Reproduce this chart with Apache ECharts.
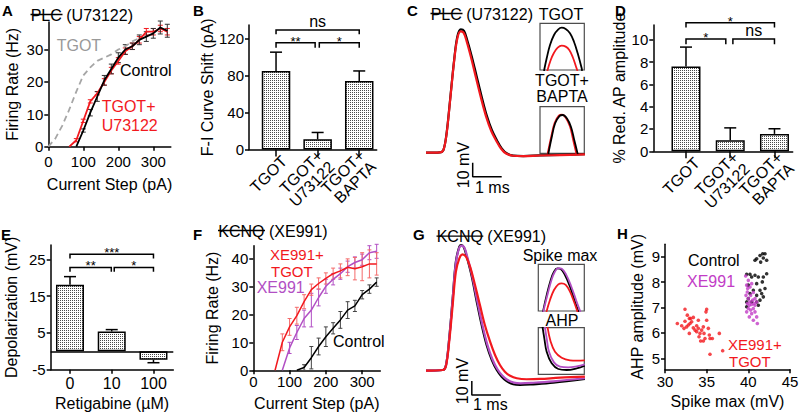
<!DOCTYPE html>
<html><head><meta charset="utf-8">
<script src="https://cdn.jsdelivr.net/npm/echarts@6/dist/echarts.min.js"></script>
<style>html,body{margin:0;padding:0;background:#fff}#c{width:800px;height:412px}</style>
</head><body><div id="c"></div>
<script>
// ---------------- DATA ----------------
// Panel A: F-I curves, PLC block (U73122)
const aTgot = [[0,0],[20,2.5],[40,6.5],[60,11.5],[80,17],[100,22],[120,24.5],[140,26.5],[160,27.5],[180,28.5],[200,30],[220,31],[240,32.5],[260,33.5]];
const aU73122 = [[60,0],[80,2],[100,8],[120,14],[140,16.5],[160,20],[180,23.5],[200,26.5],[220,29.5],[240,31],[260,33],[280,35.5],[300,35.5],[320,36.5],[340,35.5]];
const aU73122Err = [0,0.5,0.5,0.5,0.5,1,1,1,1,1,1,1,1,1,1];
const aControl = [[80,0],[100,5],[120,10.5],[140,15.5],[160,20.5],[180,24],[200,27.5],[220,30],[240,31],[260,33],[280,34],[300,35],[320,36.8],[340,35.8]];
const aControlErr = [0,0.5,1,1.5,1.5,1.5,1.5,1.5,1,1.5,1.5,1.5,2,2];

// Panel B: F-I curve shift
const bCategories = ['TGOT','TGOT+\nU73122','TGOT+\nBAPTA'];
const bMean = [85.3, 11.2, 74.4];
const bSem = [20.4, 7.3, 10.9];
const bBrackets = [[0,2,129.7,125.1,'ns'],[0,0.94,116,110.5,'**'],[1.04,2,116,110.5,'*']];

// Panel C: action potentials (ms, mV relative to baseline)
const cControl = [[0,0],[0.48,0.3],[0.6,1.9],[0.71,13.9],[0.83,37.6],[0.97,66.2],[1.08,82.9],[1.2,88.1],[1.31,87.1],[1.42,80.5],[1.58,68.6],[1.75,54.3],[1.92,40],[2.09,26.9],[2.27,16.2],[2.44,9.1],[2.61,3.1],[2.78,-0.4],[3.01,-2.1],[3.36,-2.4],[3.93,-1.9],[4.62,-1.6],[5.48,-1.1]];
const cU73122 = [[0,0],[0.48,0.3],[0.6,1.9],[0.71,13.5],[0.83,37],[0.97,65.5],[1.08,81.5],[1.19,86.6],[1.3,85.6],[1.41,79],[1.56,67.5],[1.73,53],[1.9,38.8],[2.07,26],[2.25,15.5],[2.42,8.6],[2.59,2.8],[2.76,-0.6],[2.99,-2.2],[3.34,-2.5],[3.93,-2],[4.62,-1.7],[5.48,-1.2]];
const cScaleBar = [[1.61,-7.14],[1.61,-17.14],[2.61,-17.14]];
const cInsetTgotControl = [[9,-2],[15.1,25],[22.6,53.5],[31.6,75],[41.3,87.1],[49,90.6],[58,87.8],[67.7,78.6],[76.7,60.6],[85.1,35.8],[94.1,3.6],[95,-2]];
const cInsetTgotDrug = [[16.5,-2],[24.2,21.4],[31.6,37],[40,47.8],[49,52],[58,50],[66.1,42.8],[73.8,27.9],[81.3,7.1],[84.6,-2]];
const cInsetBaptaControl = [[18.6,-2],[26.7,35.6],[34.2,64.4],[43.9,80],[51.5,82.2],[60.6,75.1],[69.8,57.1],[77.3,28.8],[85.2,-2]];
const cInsetBaptaDrug = [[17.1,-2],[25.5,36],[33,65],[42.5,81],[50,83],[58.5,76],[67.5,58],[74.8,29],[82.4,-2]];

// Panel D: % reduction of AP amplitude
const dCategories = ['TGOT','TGOT+\nU73122','TGOT+\nBAPTA'];
const dMean = [7.6, 1.0, 1.56];
const dSem = [1.74, 1.1, 0.46];
const dBrackets = [[0,2,11.52,11.1,'*'],[0,0.9,10.06,9.6,'*'],[1.06,2,10.06,9.6,'ns']];

// Panel E: depolarization vs retigabine
const eDoses = ['0','10','100'];
const eMean = [18.1, 5.4, -2.3];
const eSem = [2.2, 0.5, 0.8];
const eBrackets = [[0,2,26.4,25.2,'***'],[0,0.99,22.8,21.6,'**'],[1.06,2,22.8,21.6,'*']];

// Panel F: F-I curves, KCNQ block (XE991)
const fXe991Tgot = [[60,0],[80,10],[100,15.5],[120,19.5],[140,24.5],[160,28.8],[180,31],[200,32.8],[220,34.5],[240,35.5],[260,36.8],[280,36.3],[300,37],[320,38],[340,38]];
const fXe991TgotErr = [0,3,3,3,2.5,2,2,2,2,2.5,3,4,5,5,4];
const fXe991 = [[80,0],[100,8],[120,13.5],[140,18.5],[160,21.5],[180,26],[200,30],[220,32.5],[240,34.5],[260,37],[280,38.5],[300,39.5],[320,42],[340,42.5]];
const fXe991Err = [0,2,2.5,3,6,3,2.5,2,2,2,2,2,2.5,2.5];
const fControl = [[120,0],[140,1],[160,4.5],[180,8.5],[200,12],[220,15],[240,18],[260,21.5],[280,23],[300,27],[320,29],[340,31.5]];
const fControlErr = [0,1,4,3,3.5,2,3,3,2,1.5,1.5,1.5];

// Panel G: action potentials, KCNQ block
const gControl = [[0,0],[0.58,0.5],[0.69,4.1],[0.8,23.1],[0.92,51.7],[1.03,77.9],[1.15,88.6],[1.22,89.8],[1.31,87.9],[1.42,80.3],[1.58,67.1],[1.75,49.3],[1.92,32.6],[2.09,18.4],[2.27,7.6],[2.44,0.5],[2.61,-4.3],[2.78,-7.4],[3.01,-9.7],[3.24,-10.2],[3.7,-9.7],[4.39,-8.6],[5.48,-5.9]];
const gXe991 = [[0,0],[0.58,0.5],[0.69,4],[0.8,22.5],[0.92,51],[1.03,77],[1.15,88],[1.24,89.3],[1.33,87.6],[1.44,80],[1.6,67],[1.77,49.5],[1.94,33],[2.11,19],[2.29,8.2],[2.46,1.2],[2.63,-3.5],[2.8,-6.5],[3.03,-8.5],[3.26,-9],[3.7,-8.6],[4.39,-7.6],[5.48,-5.4]];
const gXe991Tgot = [[0,0],[0.58,0.5],[0.69,3.6],[0.8,20.7],[0.92,46.9],[1.03,70.7],[1.15,80.3],[1.26,83.1],[1.38,81.4],[1.52,74.3],[1.69,61.2],[1.86,46.9],[2.03,32.6],[2.21,20.7],[2.38,11.2],[2.55,4.1],[2.72,-0.7],[2.9,-3.6],[3.13,-5.4],[3.47,-6.1],[3.93,-5.9],[4.62,-5],[5.48,-4.3]];
const gScaleBar = [[1.58,-7.4],[1.58,-17.4],[2.58,-17.4]];
const gInsetMaxControl = [[10,-2],[18.3,34.3],[27,66.4],[34.1,84.2],[41.3,91.3],[48.7,89.9],[58,77.1],[68.9,52],[79.8,19.9],[87.6,-2]];
const gInsetMaxXe991 = [[10.7,-2],[19.5,33],[28.5,66],[36,84],[43.5,91.8],[51,90.5],[60.5,78],[71.5,53],[83,21],[91.6,-2]];
const gInsetMaxXe991Tgot = [[17.6,-2],[25.4,23.6],[34.1,45],[43.5,57.1],[50.9,59.3],[59.6,55.7],[68.9,41.3],[77.6,19.9],[85.4,-2]];
const gInsetAhpControl = [[9.2,102],[13.1,77.1],[18.2,48.5],[29.1,23.5],[43.5,11.4],[61.6,9.2],[83.4,12.8],[101,18.7]];
const gInsetAhpXe991 = [[14.3,102],[18.2,77.1],[23.3,48.5],[34.1,25.6],[47.2,16.3],[65.2,14.9],[83.4,17.1],[101,21.4]];
const gInsetAhpXe991Tgot = [[20,102],[26.9,70],[36.3,48.5],[50.8,35.6],[68.9,29.9],[83.4,29.2],[101,29.9]];

// Panel H: AHP amplitude vs spike max
const hControl = [[40.8,8.86],[41.0,8.92],[41.4,9.05],[41.72,9.12],[42.0,9.12],[42.2,8.86],[41.8,8.95],[41.48,8.79],[42.2,8.33],[39.8,8.31],[40.2,8.31],[40.4,8.2],[40.8,8.27],[41.2,8.2],[41.8,8.2],[41.0,7.94],[41.68,8.01],[40.0,7.88],[40.6,7.68],[41.4,7.68],[42.0,7.75],[40.2,7.55],[41.0,7.48],[41.6,7.55],[39.8,7.22],[40.4,7.22],[41.4,7.29],[41.8,7.42],[41.0,7.22],[40.0,7.35],[41.2,7.09],[39.8,7.03]];
const hXe991 = [[39.68,8.24],[40.0,8.07],[39.8,7.88],[40.2,7.81],[40.4,7.94],[39.88,7.61],[40.28,7.48],[40.6,7.59],[40.0,7.35],[40.2,7.22],[40.52,7.29],[40.8,7.35],[39.88,7.16],[40.12,7.09],[40.4,7.12],[40.68,7.16],[41.0,7.22],[40.0,6.96],[40.28,6.9],[40.6,6.96],[39.8,6.83],[40.4,6.76],[40.8,6.83],[40.12,6.63],[41.0,6.63],[40.6,6.5],[41.08,6.37],[39.72,7.48],[39.92,7.75],[40.8,7.09]];
const hXe991Tgot = [[31.48,6.37],[32.4,6.93],[32.68,6.7],[32.92,6.57],[32.4,6.46],[32.28,6.18],[32.6,6.24],[32.8,6.31],[33.0,6.37],[33.2,6.44],[33.4,6.2],[33.6,6.11],[33.8,6.28],[34.0,6.18],[34.2,5.98],[34.08,5.85],[34.4,6.11],[34.6,6.24],[34.68,5.98],[34.8,5.78],[35.0,6.5],[34.92,6.83],[35.0,6.93],[35.2,6.18],[35.32,5.92],[35.4,5.78],[35.68,5.78],[36.52,5.98],[35.4,5.16],[36.92,5.3],[33.4,6.61],[34.0,6.5],[32.0,6.28],[33.08,6.57],[34.6,5.68],[34.28,5.68],[33.8,6.05],[32.92,5.98]];

// ---------------- STYLE / BUILD ----------------
const FONT = "'Liberation Sans', Arial, Helvetica, sans-serif";
const RED = '#f2191e', PURPLE = '#b24fc4', HPURPLE = '#c23cc6', GRAY = '#a6a6a6';

const dotCanvas = (() => { const c = document.createElement('canvas'); c.width = 2; c.height = 2;
  const g = c.getContext('2d'); g.fillStyle = '#fff'; g.fillRect(0,0,2,2); g.fillStyle = '#4a4a4a'; g.fillRect(0,0,1,1); return c; })();
const dotFill = { image: dotCanvas, repeat: 'repeat', imageWidth: 2, imageHeight: 2 };

const chart = echarts.init(document.getElementById('c'), null, { renderer: 'svg', width: 800, height: 412 });

const gridBoxes = [
  [48.3, 22, 122.5, 124.7],    // 0 A
  [249, 25, 127.7, 124.5],     // 1 B
  [426, 23.9, 159.5, 156.8],   // 2 C
  [540, 23.3, 44.3, 46.7],     // 3 C inset 1
  [540, 106.7, 44.3, 46.6],    // 4 C inset 2
  [653.3, 25, 139.4, 126.3],   // 5 D
  [50.7, 245, 122.6, 124.7],   // 6 E
  [253.3, 245.7, 127, 124.6],  // 7 F
  [426, 241.9, 159.5, 156.8],  // 8 G
  [538.3, 264.3, 46, 46.7],    // 9 G inset 1
  [538.3, 327.7, 46, 46.6],    // 10 G inset 2
  [665, 244.3, 125, 125]       // 11 H
];
const insetIdx = [3,4,9,10];
const grid = gridBoxes.map((b, i) => ({
  left: b[0], top: b[1], width: b[2], height: b[3], outerBoundsMode: 'none', containLabel: false,
  show: insetIdx.includes(i), borderColor: '#4d4d4d', borderWidth: 1.2, backgroundColor: insetIdx.includes(i) ? '#fff' : 'transparent'
}));

function ax(g, min, max, labels, o) {
  o = o || {};
  return {
    type: 'value', gridIndex: g, min: min, max: max,
    name: o.name || '', nameLocation: 'middle', nameGap: o.nameGap || 20,
    nameTextStyle: { color: '#000', fontSize: 16, fontFamily: FONT },
    axisLine: { show: true, onZero: false, lineStyle: { color: '#000', width: 1.5 } },
    axisTick: { show: true, inside: false, length: o.tickLen || 4, customValues: o.tickValues || labels, lineStyle: { color: '#000', width: 1.5 } },
    axisLabel: Object.assign({ show: true, customValues: labels, color: '#000', fontSize: 15, fontFamily: FONT, margin: o.margin || 5,
      hideOverlap: false }, o.label || {}),
    splitLine: { show: false }
  };
}
function hid(g, min, max) { return { type: 'value', gridIndex: g, min: min, max: max, show: false }; }

const xAxis = [
  ax(0, 0, 350, [0,100,200,300], { name: 'Current Step (pA)', nameGap: 30, margin: 7 }),
  ax(1, -0.65, 2.42, [0,1,2], { tickLen: 7, label: { show: false } }),
  hid(2, 0, 5.5), hid(3, 0, 100), hid(4, 0, 100),
  ax(5, -0.739, 2.412, [0,1,2], { tickLen: 7, label: { show: false } }),
  ax(6, -0.462, 2.475, [0,1,2], { name: 'Retigabine (µM)', nameGap: 26, margin: 6, label: { fontSize: 16, formatter: v => eDoses[Math.round(v)] } }),
  ax(7, 0, 350, [0,100,200,300], { name: 'Current Step (pA)', nameGap: 25, margin: 4 }),
  hid(8, 0, 5.5), hid(9, 0, 100), hid(10, 0, 100),
  ax(11, 30, 45, [30,35,40,45], { name: 'Spike max (mV)', nameGap: 24, margin: 5 })
];
const yAxis = [
  ax(0, 0, 38.5, [0,10,20,30], { name: 'Firing Rate (Hz)', nameGap: 28 }),
  ax(1, 0, 135.2, [0,40,80,120], { name: 'F-I Curve Shift (pA)', nameGap: 29 }),
  hid(2, -20, 92), hid(3, 0, 100), hid(4, 0, 100),
  ax(5, 0, 11.32, [0,2,4,6,8,10], { name: '% Red. AP amplitude', nameGap: 14 }),
  ax(6, -5, 28.9, [-5,5,15,25], { name: 'Depolarization (mV)', nameGap: 31 }),
  ax(7, 0, 44.5, [0,10,20,30,40], { name: 'Firing Rate (Hz)', nameGap: 33 }),
  hid(8, -20, 92), hid(9, 0, 100), hid(10, 0, 100),
  ax(11, 4.567, 9.49, [5,6,7,8,9], { name: 'AHP amplitude (mV)', nameGap: 20 })
];

function line(g, data, color, width, extra) {
  return Object.assign({ type: 'line', xAxisIndex: g, yAxisIndex: g, data: data, showSymbol: false, symbol: 'none',
    lineStyle: { color: color, width: width }, itemStyle: { color: color }, animation: false, silent: true, z: 3 }, extra || {});
}
// symmetric error bars
function errBars(g, pts, errs, color, cap, width) {
  return { type: 'custom', xAxisIndex: g, yAxisIndex: g, silent: true, animation: false, z: 2,
    data: pts.map((p, i) => [p[0], p[1], errs[i]]),
    renderItem: (params, api) => {
      const x = api.value(0), y = api.value(1), e = api.value(2);
      if (!e) return null;
      const t = api.coord([x, y + e]), b = api.coord([x, y - e]);
      const st = { stroke: color, lineWidth: width };
      return { type: 'group', children: [
        { type: 'line', shape: { x1: t[0], y1: t[1], x2: b[0], y2: b[1] }, style: st },
        { type: 'line', shape: { x1: t[0] - cap, y1: t[1], x2: t[0] + cap, y2: t[1] }, style: st },
        { type: 'line', shape: { x1: b[0] - cap, y1: b[1], x2: b[0] + cap, y2: b[1] }, style: st }
      ] };
    } };
}
// one-sided (outward) error bars for bar charts
function barErr(g, means, sems) {
  return { type: 'custom', xAxisIndex: g, yAxisIndex: g, silent: true, animation: false, z: 4,
    data: means.map((m, i) => [i, m, sems[i]]),
    renderItem: (params, api) => {
      const x = api.value(0), y = api.value(1), e = api.value(2);
      const end = y >= 0 ? y + e : y - e;
      const a = api.coord([x, y]), b = api.coord([x, end]);
      const st = { stroke: '#000', lineWidth: 1.5 };
      return { type: 'group', children: [
        { type: 'line', shape: { x1: a[0], y1: a[1], x2: b[0], y2: b[1] }, style: st },
        { type: 'line', shape: { x1: b[0] - 6, y1: b[1], x2: b[0] + 6, y2: b[1] }, style: st }
      ] };
    } };
}
function bars(g, means, extra) {
  return Object.assign({ type: 'bar', xAxisIndex: g, yAxisIndex: g, barWidth: 28.5, animation: false, silent: true, z: 3,
    data: means.map((m, i) => [i, m]),
    itemStyle: { color: dotFill, borderColor: '#000', borderWidth: 1.5 } }, extra || {});
}
function brackets(g, list) {
  return { type: 'custom', xAxisIndex: g, yAxisIndex: g, silent: true, animation: false, z: 5,
    data: list.map(b => [b[0], b[2], b[1], b[3]]),
    renderItem: (params, api) => {
      const x1 = api.value(0), yT = api.value(1), x2 = api.value(2), yL = api.value(3);
      const lab = list[params.dataIndex][4];
      const p1 = api.coord([x1, yL]), p2 = api.coord([x1, yT]), p3 = api.coord([x2, yT]), p4 = api.coord([x2, yL]);
      const star = lab.indexOf('*') >= 0;
      return { type: 'group', children: [
        { type: 'polyline', shape: { points: [p1, p2, p3, p4] }, style: { stroke: '#000', lineWidth: 1.5, fill: null } },
        { type: 'text', x: (p2[0] + p3[0]) / 2, y: p2[1] + (star ? 5 : -1),
          style: { text: lab, fill: '#000', font: (star ? '13px ' : '16px ') + FONT, textAlign: 'center', textVerticalAlign: 'bottom' } }
      ] };
    } };
}
// rotated category labels placed under each bar through the axis scale
function catLabels(g, names, dx) {
  return { type: 'custom', xAxisIndex: g, yAxisIndex: g, silent: true, animation: false, z: 5,
    data: names.map((n, i) => [i, 0]),
    renderItem: (params, api) => {
      const p = api.coord([api.value(0) + dx, api.value(1)]);
      return { type: 'text', x: p[0], y: p[1] + 9, rotation: Math.PI / 4,
        style: { text: names[params.dataIndex], fill: '#000', font: '16px ' + FONT, lineHeight: 16,
          textAlign: 'right', textVerticalAlign: 'middle' } };
    } };
}

const series = [
  // A
  line(0, aTgot, GRAY, 1.8, { lineStyle: { color: GRAY, width: 1.8, type: [6, 4] } }),
  errBars(0, aU73122, aU73122Err, RED, 2.5, 1),
  line(0, aU73122, RED, 1.8),
  errBars(0, aControl, aControlErr, '#333', 2.5, 1),
  line(0, aControl, '#000', 1.8),
  // B
  bars(1, bMean), barErr(1, bMean, bSem), brackets(1, bBrackets), catLabels(1, bCategories, 0.2),
  // C
  line(2, cControl, '#000', 2.2, { smooth: 0.35 }),
  line(2, cU73122, RED, 2.2, { smooth: 0.35 }),
  line(2, cScaleBar, '#000', 1.5),
  line(3, cInsetTgotControl, '#000', 1.8, { smooth: 0.4 }),
  line(3, cInsetTgotDrug, RED, 1.8, { smooth: 0.4 }),
  line(4, cInsetBaptaDrug, RED, 1.8, { smooth: 0.4 }),
  line(4, cInsetBaptaControl, '#000', 1.8, { smooth: 0.4 }),
  // D
  bars(5, dMean, { barWidth: 29 }), barErr(5, dMean, dSem), brackets(5, dBrackets), catLabels(5, dCategories, 0.25),
  // E
  bars(6, eMean, { barWidth: 28, markLine: { silent: true, symbol: 'none', label: { show: false }, animation: false,
    lineStyle: { color: '#000', width: 1.5, type: 'solid' }, data: [{ yAxis: 0 }] } }),
  barErr(6, eMean, eSem), brackets(6, eBrackets),
  // F
  errBars(7, fControl, fControlErr, '#444', 2, 1),
  line(7, fControl, '#000', 1.5),
  errBars(7, fXe991, fXe991Err, PURPLE, 2, 1),
  line(7, fXe991, PURPLE, 1.5),
  errBars(7, fXe991Tgot, fXe991TgotErr, '#f46a6a', 2, 1),
  line(7, fXe991Tgot, RED, 1.5),
  // G
  line(8, gControl, '#000', 2.2, { smooth: 0.35 }),
  line(8, gXe991, PURPLE, 2.2, { smooth: 0.35 }),
  line(8, gXe991Tgot, RED, 2.2, { smooth: 0.35 }),
  line(8, gScaleBar, '#000', 1.5),
  line(9, gInsetMaxControl, '#000', 1.8, { smooth: 0.4 }),
  line(9, gInsetMaxXe991, PURPLE, 1.8, { smooth: 0.4 }),
  line(9, gInsetMaxXe991Tgot, RED, 1.8, { smooth: 0.4 }),
  line(10, gInsetAhpControl, '#000', 1.8, { smooth: 0.4 }),
  line(10, gInsetAhpXe991, PURPLE, 1.8, { smooth: 0.4 }),
  line(10, gInsetAhpXe991Tgot, RED, 1.8, { smooth: 0.4 }),
  // H
  { type: 'scatter', xAxisIndex: 11, yAxisIndex: 11, data: hXe991Tgot, symbolSize: 3.6, itemStyle: { color: RED }, silent: true, animation: false },
  { type: 'scatter', xAxisIndex: 11, yAxisIndex: 11, data: hControl, symbolSize: 3.6, itemStyle: { color: '#000' }, silent: true, animation: false },
  { type: 'scatter', xAxisIndex: 11, yAxisIndex: 11, data: hXe991, symbolSize: 3.6, itemStyle: { color: HPURPLE }, silent: true, animation: false }
];

// text annotations
function T(text, x, y, o) {
  o = o || {};
  return { type: 'text', x: x, y: y, rotation: o.rot || 0, z: 100, silent: true,
    style: { text: text, fill: o.color || '#000', font: (o.weight || 'normal') + ' ' + (o.size || 16) + 'px ' + FONT,
      textAlign: o.align || 'left', textVerticalAlign: 'middle' } };
}
function S(x1, x2, y) { return { type: 'line', z: 100, silent: true, shape: { x1: x1, y1: y, x2: x2, y2: y }, style: { stroke: '#000', lineWidth: 1.3 } }; }
const B = { weight: 'bold', size: 15 };
const graphics = [
  T('A', 2, 10, B), T('B', 193, 10, B), T('C', 407, 10, B), T('D', 615, 10, B),
  T('E', 1, 234, B), T('F', 193, 234, B), T('G', 413, 234, B), T('H', 617, 233, B),
  // A
  T('PLC (U73122)', 30.7, 15), S(30.5, 62.5, 14.5),
  T('TGOT', 56.7, 45, { color: '#999' }), T('Control', 120, 70), T('TGOT+', 101.7, 106.7, { color: RED }), T('U73122', 101.7, 125, { color: RED }),
  // C
  T('PLC (U73122)', 430.7, 14), S(430.5, 462.5, 13.5), T('TGOT', 561, 14, { align: 'center' }),
  T('TGOT+', 562, 80, { align: 'center' }), T('BAPTA', 562, 96.7, { align: 'center' }),
  T('10 mV', 463.5, 165, { rot: Math.PI / 2, align: 'center' }), T('1 ms', 475, 187.5),
  // F
  T('KCNQ (XE991)', 218.3, 231), S(218, 265, 230.5),
  T('XE991+', 270, 254.5, { color: RED, size: 15 }), T('TGOT', 271, 271.5, { color: RED, size: 15 }),
  T('XE991', 256.7, 287.5, { color: PURPLE }), T('Control', 333, 341),
  // G
  T('KCNQ (XE991)', 436.7, 236.7), S(436.5, 483.3, 236.2),
  T('Spike max', 560, 255, { align: 'center' }), T('AHP', 562, 320, { align: 'center' }),
  T('10 mV', 462.5, 381, { rot: Math.PI / 2, align: 'center' }), T('1 ms', 473, 404.5),
  // H
  T('Control', 688, 260), T('XE991', 687, 281.7, { color: HPURPLE }),
  T('XE991+', 728, 344.5, { color: RED, size: 15 }), T('TGOT', 729, 361.5, { color: RED, size: 15 })
];

chart.setOption({
  animation: false,
  backgroundColor: '#fff',
  textStyle: { fontFamily: FONT, color: '#000' },
  grid: grid, xAxis: xAxis, yAxis: yAxis, series: series,
  graphic: { elements: graphics }
});
</script>
</body></html>
